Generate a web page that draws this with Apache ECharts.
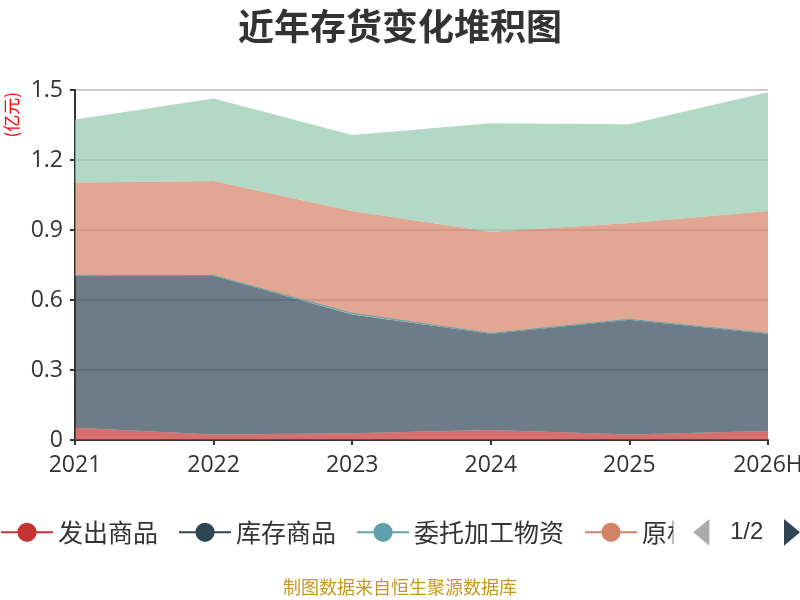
<!DOCTYPE html>
<html>
<head>
<meta charset="utf-8">
<title>近年存货变化堆积图</title>
<script src="https://cdn.jsdelivr.net/npm/echarts@6/dist/echarts.min.js"></script>
<style>
html, body { margin: 0; padding: 0; background: #fff; }
#main { width: 800px; height: 600px; }
</style>
</head>
<body>
<div id="main"></div>
<script type="text/javascript">
// 年份
var years = ['2021', '2022', '2023', '2024', '2025', '2026H'];
// 各项存货（亿元）
var faChu = [0.053, 0.024, 0.029, 0.043, 0.024, 0.039];       // 发出商品
var kuCun = [0.651, 0.680, 0.509, 0.412, 0.491, 0.416];       // 库存商品
var weiTuo = [0.000, 0.001, 0.005, 0.002, 0.002, 0.002];      // 委托加工物资
var yuanCai = [0.400, 0.405, 0.438, 0.436, 0.413, 0.524];     // 原材料
var zaiChan = [0.270, 0.354, 0.326, 0.464, 0.423, 0.509];     // 在产品
var yTicks = [0, 0.3, 0.6, 0.9, 1.2, 1.5];

var colors = ['#c23531', '#2f4554', '#61a0a8', '#d48265', '#91c7ae'];

function areaSeries(name, data, lineWidth) {
    return {
        name: name,
        type: 'line',
        stack: '总量',
        data: data,
        symbol: 'circle',
        symbolSize: 8,
        showSymbol: false,
        lineStyle: { width: lineWidth },
        areaStyle: { opacity: 0.7 }
    };
}

var chart = echarts.init(document.getElementById('main'));
var option = {
    color: colors,
    title: {
        text: '近年存货变化堆积图',
        left: 'center',
        top: 3,
        textStyle: {
            fontSize: 36,
            fontWeight: 'bold',
            color: '#333',
            fontFamily: 'Noto Sans CJK SC'
        }
    },
    graphic: [{
        type: 'text',
        left: 3,
        top: 92,
        rotation: Math.PI / 2,
        style: {
            text: '(亿元)',
            fill: '#ff0000',
            fontSize: 17,
            fontFamily: 'Noto Sans CJK SC'
        }
    }, {
        type: 'text',
        left: 'center',
        top: 578,
        style: {
            text: '制图数据来自恒生聚源数据库',
            fill: '#c8961e',
            fontSize: 18,
            fontFamily: 'Noto Sans CJK SC'
        }
    }],
    legend: {
        type: 'scroll',
        top: 519,
        left: 0,
        right: 0,
        padding: 0,
        itemWidth: 52,
        itemHeight: 24,
        itemGap: 20,
        lineStyle: { width: 2 },
        textStyle: { fontSize: 25, color: '#333', fontFamily: 'Noto Sans CJK SC' },
        pageIconColor: '#2f4554',
        pageIconInactiveColor: '#aaa',
        pageIconSize: [16, 28],
        pageButtonItemGap: 10,
        pageTextStyle: { fontSize: 24, color: '#333' },
        data: ['发出商品', '库存商品', '委托加工物资', '原材料', '在产品']
    },
    grid: {
        left: 75,
        right: 32,
        top: 90,
        bottom: 160,
        outerBoundsMode: 'none'
    },
    xAxis: {
        type: 'category',
        boundaryGap: false,
        data: years,
        axisLine: { lineStyle: { color: '#333', width: 2 } },
        axisTick: { lineStyle: { color: '#333', width: 2 } },
        axisLabel: { fontSize: 23, color: '#333', margin: 14, fontFamily: 'Open Sans' }
    },
    yAxis: {
        type: 'value',
        min: yTicks[0],
        max: yTicks[yTicks.length - 1],
        interval: 0.3,
        axisLine: { show: true, lineStyle: { color: '#333', width: 2 } },
        axisTick: { show: true, lineStyle: { color: '#333', width: 2 } },
        axisLabel: { fontSize: 23, color: '#333', margin: 12, fontFamily: 'Open Sans' },
        splitLine: { lineStyle: { color: '#ccc', width: 2 } }
    },
    series: [
        areaSeries('发出商品', faChu, 0),
        areaSeries('库存商品', kuCun, 0),
        areaSeries('委托加工物资', weiTuo, 1),
        areaSeries('原材料', yuanCai, 0),
        areaSeries('在产品', zaiChan, 0)
    ]
};

chart.setOption(option);
</script>
</body>
</html>
